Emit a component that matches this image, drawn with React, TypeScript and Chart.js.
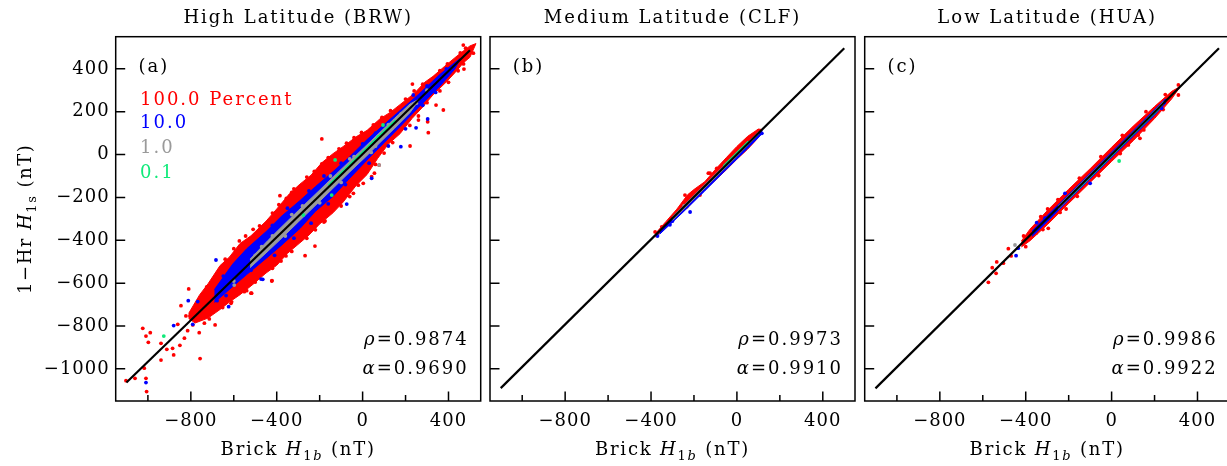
import React, { useEffect, useRef } from 'react';
import { Chart, registerables } from 'chart.js';

Chart.register(...registerables);

const FONT_FAMILY = '"DejaVu Serif", "Liberation Serif", serif';
const TEXT_SIZE = 18;
const RED = '#ff0000';
const BLUE = '#0000ff';
const GRAY = '#9a9a9a';
const GREEN = '#10ea7a';

const AXIS_MIN = -1150;
const AXIS_MAX = 550;
const xTickValues = [-1000, -800, -600, -400, -200, 0, 200, 400];
const xTickLabelValues = [-800, -400, 0, 400];
const yTickValues = [-1000, -800, -600, -400, -200, 0, 200, 400];

const panelTitles = ['High Latitude (BRW)', 'Medium Latitude (CLF)', 'Low Latitude (HUA)'];
const panelTags = ['(a)', '(b)', '(c)'];
const rhoValues = ['0.9874', '0.9973', '0.9986'];
const alphaValues = ['0.9690', '0.9910', '0.9922'];
const legendLabels = ['100.0 Percent', '10.0', '1.0', '0.1'];
const legendColors = [RED, BLUE, GRAY, GREEN];

// ---------- Panel (a) BRW ----------
const fitLineA = [[-1100, -1064], [500, 487]];
const redBandA = [
  [-810, -741], [-760, -656], [-720, -603], [-664, -518], [-620, -478], [-571, -415], [-520, -379], [-450, -311],
  [-400, -254], [-340, -182], [-292, -138], [-240, -96], [-190, -38], [-138, 4], [-80, 45], [-30, 83], [21, 113],
  [80, 166], [130, 198], [174, 233], [240, 285], [290, 338], [328, 365], [380, 410], [430, 452], [470, 484],
  [500, 507], [528, 518],
  [500, 454], [470, 429], [430, 382], [390, 339], [328, 279], [280, 222], [230, 168], [174, 97], [120, 49],
  [70, -18], [21, -93], [-30, -144], [-90, -221], [-138, -272], [-200, -324], [-250, -376], [-292, -412],
  [-350, -461], [-400, -517], [-450, -553], [-510, -605], [-571, -654], [-620, -688], [-664, -723],
  [-720, -763], [-780, -786], [-810, -765],
];
const blueBandA = [
  [-690, -630], [-640, -560], [-604, -510], [-540, -440], [-450, -360], [-380, -290], [-292, -215], [-220, -150],
  [-138, -80], [-60, -10], [21, 70], [100, 140], [174, 205], [260, 280], [361, 375], [430, 430], [455, 448],
  [430, 400], [361, 320], [260, 220], [174, 130], [100, 55], [21, -25], [-60, -110], [-138, -195], [-220, -265],
  [-292, -345], [-380, -425], [-450, -485], [-540, -560], [-604, -615], [-690, -690],
];
const grayBandA = [
  [-524, -488], [-440, -400], [-385, -345], [-300, -262], [-198, -164], [-120, -88], [-59, -30], [20, 45],
  [81, 104], [150, 170], [221, 236], [267, 261],
  [221, 196], [150, 124], [81, 56], [20, -5], [-59, -80], [-120, -140], [-198, -216], [-300, -315], [-385, -398],
  [-440, -450], [-524, -528],
];
const greenBandA = [[-160, -141], [-60, -43], [40, 55], [150, 161], [150, 150], [40, 43], [-60, -55], [-160, -153]];
const redDotsA = [
  [-1102, -1055], [-1060, -1044], [-1024, -811], [-1009, -847], [-989, -831], [-998, -876], [-1017, -997],
  [-1009, -1044], [-1006, -1106], [-939, -881], [-912, -909], [-885, -904], [-880, -935], [-851, -890],
  [-939, -959], [-861, -792], [-823, -753], [-804, -753], [-815, -822], [-830, -857], [-791, -795],
  [-761, -831], [-737, -787], [-757, -952], [-714, -767], [-687, -795], [-810, -627], [-846, -705],
  [-776, -717], [-742, -733], [-721, -619], [-748, -655], [-652, -714], [-613, -694], [-636, -647],
  [-520, -647], [-551, -640], [-422, -588], [-388, -492], [-691, -609], [-706, -733],
  [-385, -192], [-330, -176], [-222, -427], [-268, -472], [-574, -403], [-517, -647], [-423, -590],
  [3, -134], [77, -49], [55, -87], [-43, -181], [-175, -310], [-357, -473], [-726, -617],
  [-190, 73], [469, 511], [516, 473], [472, 399], [376, 208], [342, 231], [306, 102], [303, 153],
  [232, 329], [221, 40], [42, -103], [260, 161],
  [-640, -488], [-600, -439], [-545, -380], [-510, -349], [-480, -333], [-420, -273], [-390, -234],
  [-355, -204], [-320, -160], [-260, -105], [-225, -79], [-190, -44], [-160, -14], [-110, 27], [-75, 53],
  [-40, 79], [-5, 103], [50, 138], [90, 173], [130, 205], [200, 259], [240, 297], [280, 328], [360, 392],
  [395, 423], [455, 474], [480, 496],
  [470, 423], [445, 391], [400, 337], [360, 297], [300, 242], [260, 180], [220, 136], [140, 56], [100, 7],
  [60, -46], [-20, -143], [-60, -196], [-100, -240], [-180, -315], [-220, -351], [-260, -391], [-330, -452],
  [-380, -497], [-420, -531], [-500, -595], [-540, -635], [-610, -687],
];
const blueDotsA = [
  [-1009, -1064], [-880, -798], [-812, -682], [-768, -686], [-791, -792], [-678, -682], [-652, -604],
  [-624, -710], [-636, -658], [-465, -582], [-473, -581], [-683, -492], [-74, -231], [42, -111],
  [-649, -567], [249, 125], [178, 37], [303, 166], [236, 278],
  [-560, -500], [-500, -420], [-420, -330], [-350, -250], [-250, -170], [-180, -100], [-100, -40], [0, 50],
  [60, 100], [150, 170], [220, 230], [300, 320], [390, 400], [-520, -540], [-410, -470], [-320, -390],
  [-240, -320], [-160, -230], [-80, -140], [30, -40], [120, 40], [200, 120], [280, 230], [340, 290],
];
const grayDotsA = [
  [-598, -609], [77, -49], [-470, -430], [-330, -280], [-250, -230], [-150, -100], [-40, -10], [60, 40],
  [180, 190], [300, 300], [-600, -590], [-360, -380], [-100, -130],
  [-420, -380], [-280, -240], [-200, -225], [-60, -20], [40, 10], [120, 140], [250, 240], [-500, -470], [-350, -345],
];
const greenDotsA = [[-128, -25], [-144, -189], [-276, -282], [73, 83], [95, 138], [-926, -847]];

// ---------- Panel (b) CLF ----------
const fitLineB = [[-1100, -1090], [500, 496]];
const redBandB = [
  [-380, -369], [-330, -312], [-280, -255], [-230, -188], [-200, -163], [-150, -127], [-100, -69], [-50, -15],
  [0, 38], [50, 85], [100, 119], [118, 117],
  [100, 79], [50, 25], [0, -22], [-50, -72], [-100, -119], [-150, -164], [-200, -216], [-230, -248],
  [-280, -292], [-330, -339], [-380, -385],
];
const blueBandB = [
  [-360, -354], [-250, -245], [-150, -146], [-50, -47], [50, 52], [115, 116],
  [115, 95], [50, 28], [-50, -70], [-150, -170], [-250, -268], [-360, -372],
];
const grayBandB = [[-300, -290], [0, 8], [100, 104], [100, 94], [0, -8], [-300, -306]];
const greenBandB = [[-65, -52], [50, 62], [50, 47], [-65, -66]];
const redDotsB = [
  [-343, -337], [-312, -305], [-273, -262], [-234, -243], [-242, -220], [-211, -204], [-195, -173],
  [-172, -189], [-133, -87], [-164, -165], [-94, -64], [-32, -22], [53, 68], [100, 111], [-125, -87],
  [-242, -189], [-350, -337], [-381, -361],
];
const blueDotsB = [[116, 99], [-312, -328], [-218, -268], [-370, -380], [-300, -310]];
const grayDotsB = [[-246, -240]];
const greenDotsB: number[][] = [];

// ---------- Panel (c) HUA ----------
const fitLineC = [[-1100, -1091], [500, 496]];
const redBandC = [
  [-420, -403], [-380, -348], [-300, -262], [-200, -162], [-100, -66], [0, 34], [100, 132], [200, 224],
  [280, 295], [320, 318],
  [280, 260], [200, 168], [100, 64], [0, -32], [-100, -130], [-200, -228], [-300, -328], [-380, -402], [-420, -431],
];
const blueBandC = [
  [-370, -356], [-300, -284], [-200, -186], [0, 12], [200, 210], [250, 258],
  [250, 238], [200, 184], [0, -14], [-200, -212], [-300, -314], [-370, -382],
];
const grayBandC = [[-250, -240], [0, 6], [240, 246], [240, 232], [0, -6], [-250, -256]];
const greenBandC = [[-200, -200], [220, 216], [220, 210], [-200, -206]];
const redDotsC = [
  [-574, -596], [-556, -528], [-535, -501], [-538, -554], [-504, -507], [-481, -439], [-468, -473],
  [-298, -254], [-212, -254], [-295, -344], [-352, -367], [311, 325], [311, 278], [124, 91], [132, 76], [78, 45],
  [-410, -380], [-330, -290], [-250, -210], [-150, -110], [-50, -10], [50, 90], [160, 200], [250, 280],
  [-400, -430], [-320, -350], [-240, -270], [-160, -195], [-60, -98], [40, 5], [150, 115], [240, 210],
];
const blueDotsC = [[-445, -472], [-435, -437], [-349, -318], [-310, -297], [-217, -181], [233, 216], [-100, -134]];
const grayDotsC = [[-450, -422]];
const greenDotsC = [[35, -30]];

type Seg = { t: string; italic?: boolean; sub?: boolean; color?: string };

interface PanelSpec {
  idx: number;
  canvasLeft: number;
  canvasWidth: number;
  yAxisWidth: number;
  rightPad: number;
  showYLabels: boolean;
  fit: number[][];
  red: number[][]; blue: number[][]; gray: number[][]; green: number[][];
  redDots: number[][]; blueDots: number[][]; grayDots: number[][]; greenDots: number[][];
}

const panels: PanelSpec[] = [
  {
    idx: 0, canvasLeft: 0, canvasWidth: 487, yAxisWidth: 115.7, rightPad: 6.3, showYLabels: true,
    fit: fitLineA, red: redBandA, blue: blueBandA, gray: grayBandA, green: greenBandA,
    redDots: redDotsA, blueDots: blueDotsA, grayDots: grayDotsA, greenDots: greenDotsA,
  },
  {
    idx: 1, canvasLeft: 487, canvasWidth: 375, yAxisWidth: 3, rightPad: 7, showYLabels: false,
    fit: fitLineB, red: redBandB, blue: blueBandB, gray: grayBandB, green: greenBandB,
    redDots: redDotsB, blueDots: blueDotsB, grayDots: grayDotsB, greenDots: greenDotsB,
  },
  {
    idx: 2, canvasLeft: 862, canvasWidth: 375, yAxisWidth: 2.7, rightPad: 7.3, showYLabels: false,
    fit: fitLineC, red: redBandC, blue: blueBandC, gray: grayBandC, green: greenBandC,
    redDots: redDotsC, blueDots: blueDotsC, grayDots: grayDotsC, greenDots: greenDotsC,
  },
];

const toPts = (arr: number[][]) => arr.map(([x, y]) => ({ x, y }));
const fmtTick = (v: number) => (v < 0 ? '\u2212' + Math.abs(v) : String(v));

function fontOf(s: Seg, size: number) {
  const sz = s.sub ? Math.round(size * 0.74) : size;
  return `${s.italic ? 'italic ' : ''}${sz}px ${FONT_FAMILY}`;
}

function drawRich(
  ctx: CanvasRenderingContext2D, segs: Seg[], x: number, y: number,
  align: 'left' | 'center' | 'right', spacing: number, color: string, rotate = false, size = TEXT_SIZE,
) {
  ctx.save();
  ctx.translate(x, y);
  if (rotate) ctx.rotate(-Math.PI / 2);
  (ctx as any).letterSpacing = spacing + 'px';
  ctx.textAlign = 'left';
  ctx.textBaseline = 'alphabetic';
  let w = 0;
  for (const s of segs) { ctx.font = fontOf(s, size); w += ctx.measureText(s.t).width; }
  let cx = align === 'left' ? 0 : align === 'center' ? -w / 2 : -w;
  for (const s of segs) {
    ctx.font = fontOf(s, size);
    ctx.fillStyle = s.color || color;
    ctx.fillText(s.t, cx, s.sub ? size * 0.3 : 0);
    cx += ctx.measureText(s.t).width;
  }
  ctx.restore();
}

function overlayPlugin(spec: PanelSpec) {
  return {
    id: 'overlay' + spec.idx,
    beforeUpdate(chart: any) { chart.ctx.letterSpacing = '1px'; },
    beforeDraw(chart: any) { chart.ctx.letterSpacing = '1px'; },
    afterDraw(chart: any) {
      const ctx: CanvasRenderingContext2D = chart.ctx;
      const a = chart.chartArea;
      const xs = chart.scales.x;
      const ys = chart.scales.y;
      ctx.save();
      (ctx as any).letterSpacing = '0px';
      ctx.strokeStyle = '#000';
      ctx.lineWidth = 1.5;
      ctx.strokeRect(a.left, a.top, a.right - a.left, a.bottom - a.top);
      ctx.beginPath();
      for (const v of yTickValues) {
        const p = ys.getPixelForValue(v);
        ctx.moveTo(a.left, p);
        ctx.lineTo(a.left + 9.5, p);
      }
      for (const v of xTickValues) {
        const p = xs.getPixelForValue(v);
        const len = xTickLabelValues.includes(v) ? 9.5 : 6;
        ctx.moveTo(p, a.bottom);
        ctx.lineTo(p, a.bottom - len);
      }
      ctx.stroke();
      ctx.restore();

      const cx = (a.left + a.right) / 2;
      drawRich(ctx, [{ t: panelTitles[spec.idx] }], cx, 23.3, 'center', 2, '#000');
      drawRich(ctx, [{ t: 'Brick ' }, { t: 'H', italic: true }, { t: '1', sub: true }, { t: 'b', sub: true, italic: true }, { t: ' (nT)' }],
        cx, 455, 'center', 1.8, '#000');
      drawRich(ctx, [{ t: panelTags[spec.idx] }], a.left + 22.8, 72, 'left', 2, '#000');
      drawRich(ctx, [{ t: '\u03c1', italic: true }, { t: '=' + rhoValues[spec.idx] }], a.right - 12, 345, 'right', 2, '#000');
      drawRich(ctx, [{ t: '\u03b1', italic: true }, { t: '=' + alphaValues[spec.idx] }], a.right - 12, 373.5, 'right', 2, '#000');
      if (spec.idx === 0) {
        const baselines = [105, 128.3, 153.3, 178.3];
        legendLabels.forEach((lab, i) => {
          drawRich(ctx, [{ t: lab }], a.left + 24.3, baselines[i], 'left', 2, legendColors[i]);
        });
        drawRich(ctx, [{ t: '1\u2212Hr ' }, { t: 'H', italic: true }, { t: '1s', sub: true }, { t: ' (nT)' }],
          31, (a.top + a.bottom) / 2, 'center', 1.5, '#000', true);
      }
    },
  };
}

function band(data: number[][], color: string, order: number) {
  return {
    data: toPts(data), showLine: true, fill: 'shape', backgroundColor: color, borderColor: color,
    borderWidth: 1, pointRadius: 0, pointHoverRadius: 0, tension: 0, order,
  };
}
function dots(data: number[][], color: string, order: number) {
  return {
    data: toPts(data), showLine: false, pointRadius: 1.9, pointHoverRadius: 1.9, pointBorderWidth: 0,
    pointBackgroundColor: color, backgroundColor: color, borderColor: color, order,
  };
}

function buildConfig(spec: PanelSpec): any {
  const tickFont = { family: FONT_FAMILY, size: TEXT_SIZE, weight: 'normal' as const };
  return {
    type: 'scatter',
    data: {
      datasets: [
        { data: toPts(spec.fit), showLine: true, borderColor: '#000', borderWidth: 2.2, pointRadius: 0, fill: false, order: 0 },
        dots(spec.greenDots, GREEN, 1), band(spec.green, GREEN, 2),
        dots(spec.grayDots, GRAY, 3), band(spec.gray, GRAY, 4),
        dots(spec.blueDots, BLUE, 5), band(spec.blue, BLUE, 6),
        dots(spec.redDots, RED, 7), band(spec.red, RED, 8),
      ],
    },
    options: {
      animation: false,
      responsive: false,
      devicePixelRatio: 1,
      events: [],
      layout: { padding: { left: 0, right: spec.rightPad, top: 36.7, bottom: 0 } },
      plugins: { legend: { display: false }, tooltip: { enabled: false }, title: { display: false } },
      scales: {
        x: {
          type: 'linear', min: AXIS_MIN, max: AXIS_MAX,
          afterBuildTicks: (s: any) => { s.ticks = xTickValues.map((v) => ({ value: v })); },
          afterFit: (s: any) => { s.height = 65; },
          ticks: {
            callback: (v: number) => (xTickLabelValues.includes(v) ? fmtTick(v) : ''),
            font: tickFont, color: '#000', padding: 10, maxRotation: 0, autoSkip: false,
          },
          grid: { display: false, drawTicks: false },
          border: { display: false },
        },
        y: {
          type: 'linear', min: AXIS_MIN, max: AXIS_MAX,
          afterBuildTicks: (s: any) => { s.ticks = yTickValues.map((v) => ({ value: v })); },
          afterFit: (s: any) => { s.width = spec.yAxisWidth; },
          ticks: {
            display: spec.showYLabels,
            callback: (v: number) => fmtTick(v),
            font: tickFont, color: '#000', padding: 6, autoSkip: false,
          },
          grid: { display: false, drawTicks: false },
          border: { display: false },
        },
      },
    },
    plugins: [overlayPlugin(spec)],
  };
}

function Panel({ spec }: { spec: PanelSpec }) {
  const ref = useRef<HTMLCanvasElement>(null);
  useEffect(() => {
    const chart = new Chart(ref.current as HTMLCanvasElement, buildConfig(spec));
    return () => chart.destroy();
  }, [spec]);
  return (
    <canvas
      ref={ref}
      width={spec.canvasWidth}
      height={466}
      style={{ position: 'absolute', left: spec.canvasLeft, top: 0, width: spec.canvasWidth, height: 466 }}
    />
  );
}

export default function App() {
  return (
    <div style={{ position: 'fixed', left: 0, top: 0, width: 1227, height: 466, overflow: 'hidden', background: '#fff' }}>
      {panels.map((p) => (
        <Panel key={p.idx} spec={p} />
      ))}
    </div>
  );
}
